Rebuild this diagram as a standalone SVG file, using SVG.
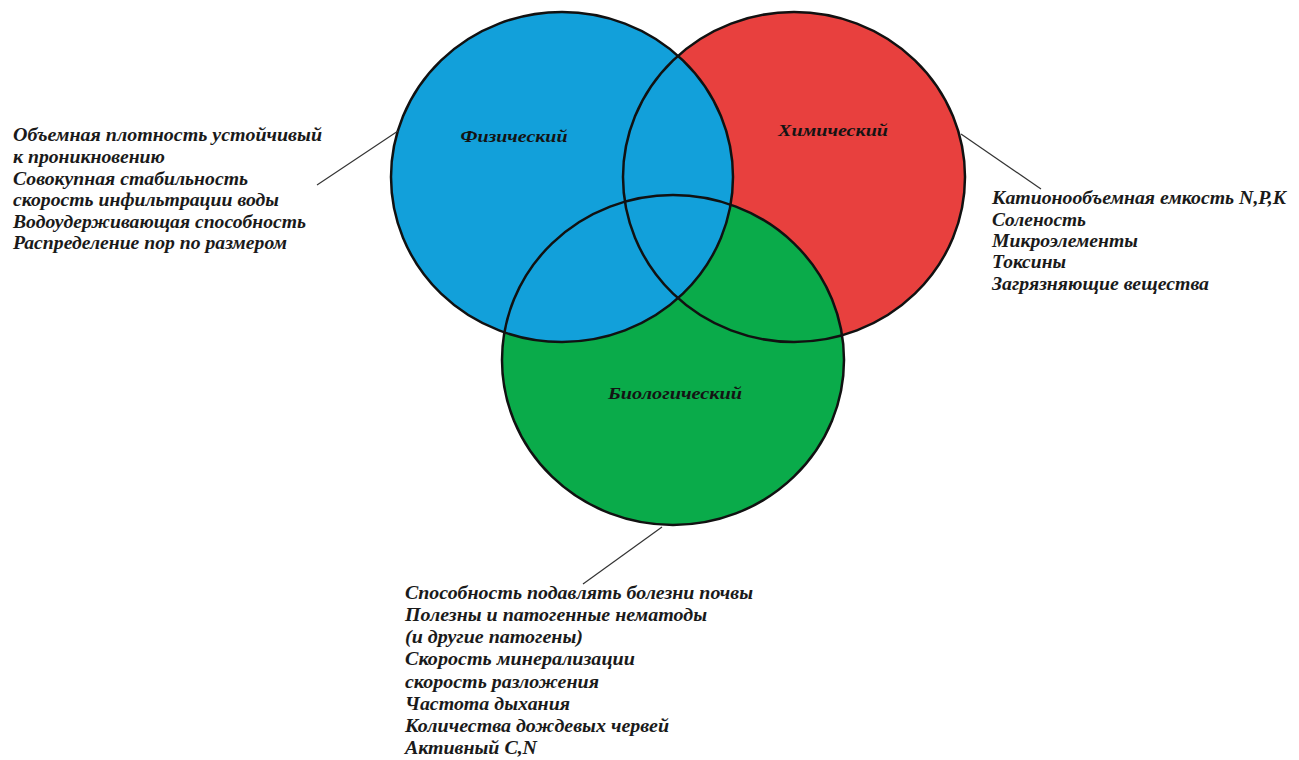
<svg xmlns="http://www.w3.org/2000/svg" width="1299" height="760" viewBox="0 0 1299 760">
<style>
.bg{fill:#ffffff}
.fill-red{fill:#E8403E}
.fill-green{fill:#0AAB4A}
.fill-blue{fill:#12A0DA}
.ring{fill:none;stroke:#111;stroke-width:2.5}
.lbl{font-family:"Liberation Serif",serif;font-style:italic;font-weight:bold;font-size:17px;fill:#141414}
.txt{font-family:"Liberation Serif",serif;font-style:italic;font-weight:bold;font-size:18px;fill:#1a1a1a}
.conn{stroke:#333;stroke-width:1.2;fill:none}
</style>
<rect class="bg" x="0" y="0" width="1299" height="760"/>
<g id="fills">
<ellipse class="fill-red" cx="794" cy="177" rx="171" ry="165"/>
<ellipse class="fill-green" cx="673" cy="360" rx="171" ry="165"/>
<ellipse class="fill-blue" cx="562" cy="177" rx="171" ry="165"/>
</g>
<g id="node-chemical">
<ellipse class="ring" cx="794" cy="177" rx="171" ry="165"/>
<text class="lbl" x="833" y="136" text-anchor="middle" textLength="110" lengthAdjust="spacingAndGlyphs">Химический</text>
</g>
<g id="node-biological">
<ellipse class="ring" cx="673" cy="360" rx="171" ry="165"/>
<text class="lbl" x="675" y="399" text-anchor="middle" textLength="134" lengthAdjust="spacingAndGlyphs">Биологический</text>
</g>
<g id="node-physical">
<ellipse class="ring" cx="562" cy="177" rx="171" ry="165"/>
<text class="lbl" x="514" y="142" text-anchor="middle" textLength="107" lengthAdjust="spacingAndGlyphs">Физический</text>
</g>
<g id="connectors">
<line class="conn" x1="398" y1="131" x2="317" y2="185"/>
<line class="conn" x1="961" y1="134" x2="1041" y2="189"/>
<line class="conn" x1="662" y1="527" x2="583" y2="584"/>
</g>
<g id="physical-list">
<text class="txt" x="13" y="141" textLength="309" lengthAdjust="spacingAndGlyphs">Объемная плотность устойчивый</text>
<text class="txt" x="13" y="163" textLength="152" lengthAdjust="spacingAndGlyphs">к проникновению</text>
<text class="txt" x="13" y="185" textLength="235" lengthAdjust="spacingAndGlyphs">Совокупная стабильность</text>
<text class="txt" x="13" y="206" textLength="266" lengthAdjust="spacingAndGlyphs">скорость инфильтрации воды</text>
<text class="txt" x="13" y="228" textLength="293" lengthAdjust="spacingAndGlyphs">Водоудерживающая способность</text>
<text class="txt" x="13" y="249" textLength="274" lengthAdjust="spacingAndGlyphs">Распределение пор по размером</text>
</g>
<g id="chemical-list">
<text class="txt" x="992" y="204" textLength="294" lengthAdjust="spacingAndGlyphs">Катионообъемная емкость N,P,K</text>
<text class="txt" x="992" y="226" textLength="94" lengthAdjust="spacingAndGlyphs">Соленость</text>
<text class="txt" x="992" y="247" textLength="146" lengthAdjust="spacingAndGlyphs">Микроэлементы</text>
<text class="txt" x="992" y="268" textLength="74" lengthAdjust="spacingAndGlyphs">Токсины</text>
<text class="txt" x="992" y="290" textLength="217" lengthAdjust="spacingAndGlyphs">Загрязняющие вещества</text>
</g>
<g id="biological-list">
<text class="txt" x="405" y="599" textLength="348" lengthAdjust="spacingAndGlyphs">Способность подавлять болезни почвы</text>
<text class="txt" x="405" y="621" textLength="302" lengthAdjust="spacingAndGlyphs">Полезны и патогенные нематоды</text>
<text class="txt" x="405" y="643" textLength="178" lengthAdjust="spacingAndGlyphs">(и другие патогены)</text>
<text class="txt" x="405" y="665" textLength="230" lengthAdjust="spacingAndGlyphs">Скорость минерализации</text>
<text class="txt" x="405" y="688" textLength="194" lengthAdjust="spacingAndGlyphs">скорость разложения</text>
<text class="txt" x="405" y="710" textLength="165" lengthAdjust="spacingAndGlyphs">Частота дыхания</text>
<text class="txt" x="405" y="732" textLength="264" lengthAdjust="spacingAndGlyphs">Количества дождевых червей</text>
<text class="txt" x="405" y="754" textLength="132" lengthAdjust="spacingAndGlyphs">Активный C,N</text>
</g>
</svg>
